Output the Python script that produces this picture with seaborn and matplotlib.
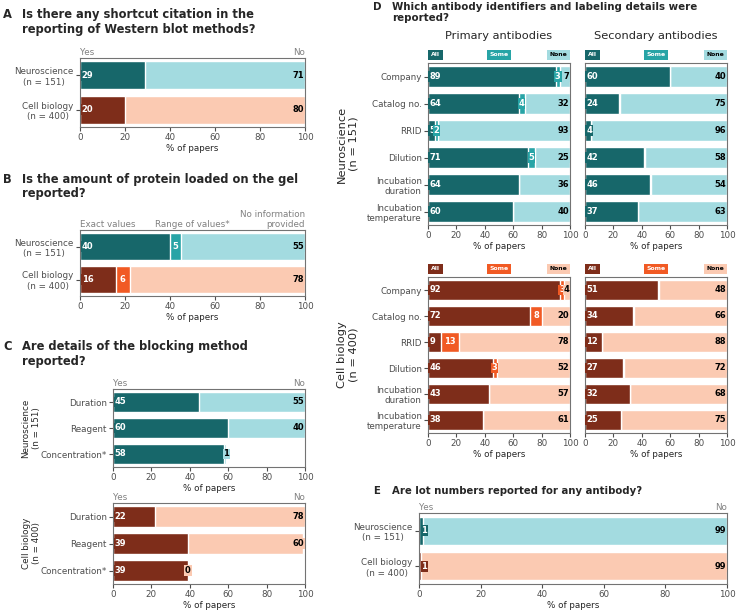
import numpy as np
import pandas as pd
import matplotlib
matplotlib.use("Agg")
import matplotlib.pyplot as plt
import seaborn as sns

# colours
TEAL_DARK = "#17676a"
TEAL_MID = "#27a4a6"
TEAL_LIGHT = "#a3dbe0"
BROWN = "#7e2d1a"
ORANGE = "#f15a24"
PEACH = "#fbcab2"
TEAL = [TEAL_DARK, TEAL_MID, TEAL_LIGHT]
RUST = [BROWN, ORANGE, PEACH]

groups = ["Neuroscience\n(n = 151)", "Cell biology\n(n = 400)"]

# A - shortcut citation
a_yes = [29, 20]
a_no = [71, 80]

# B - protein amount
b_exact = [40, 16]
b_range = [5, 6]
b_none = [55, 78]

# C - blocking method
c_items = ["Duration", "Reagent", "Concentration*"]
c_neuro_yes = [45, 60, 58]
c_neuro_no = [55, 40, 1]
c_cell_yes = [22, 39, 39]
c_cell_no = [78, 60, 0]

# D - antibody details
d_items = ["Company", "Catalog no.", "RRID", "Dilution",
           "Incubation\nduration", "Incubation\ntemperature"]
d_neuro_prim_all = [89, 64, 5, 71, 64, 60]
d_neuro_prim_some = [3, 4, 2, 5, 0, 0]
d_neuro_prim_none = [7, 32, 93, 25, 36, 40]
d_neuro_sec_all = [60, 24, 4, 42, 46, 37]
d_neuro_sec_some = [0.4, 0.7, 0, 0.3, 0.4, 0]
d_neuro_sec_none = [40, 75, 96, 58, 54, 63]
d_cell_prim_all = [92, 72, 9, 46, 43, 38]
d_cell_prim_some = [3, 8, 13, 3, 0, 0]
d_cell_prim_none = [4, 20, 78, 52, 57, 61]
d_cell_sec_all = [51, 34, 12, 27, 32, 25]
d_cell_sec_some = [0.8, 0.4, 0.3, 0.6, 0, 0]
d_cell_sec_none = [48, 66, 88, 72, 68, 75]

# E - lot numbers
e_yes = [1.4, 0.7]
e_no = [99, 99]

sns.set_style("ticks")
plt.rcParams["font.family"] = ["DejaVu Sans"]
plt.rcParams["axes.edgecolor"] = "0.45"
plt.rcParams["axes.linewidth"] = 0.8
plt.rcParams["xtick.color"] = "0.3"
plt.rcParams["ytick.color"] = "0.3"
plt.rcParams["xtick.major.size"] = 3
plt.rcParams["ytick.major.size"] = 3

TICK = 6.3
VAL = 6.0
W, H = 736, 611

fig = plt.figure(figsize=(7.36, 6.11), dpi=100)


def box(x0, y0, x1, y1):
    # pixel box -> figure fraction axes
    return fig.add_axes([x0 / W, 1 - y1 / H, (x1 - x0) / W, (y1 - y0) / H])


def vlabel(ax, x, y, txt, fg, bg, ha):
    ax.text(x, y, txt, ha=ha, va="center", color=fg, fontsize=VAL,
            fontweight="bold", bbox=dict(boxstyle="square,pad=0.1", fc=bg, ec="none"))


def stacked(ax, cats, segs, colors, normalise=True):
    vals = np.array(segs, dtype=float)
    cum = vals.cumsum(axis=0)
    if normalise:
        cum = cum / cum[-1] * 100
    for lev in range(len(segs) - 1, -1, -1):
        df = pd.DataFrame({"cat": cats, "x": cum[lev]})
        sns.barplot(data=df, x="x", y="cat", orient="h", color=colors[lev],
                    saturation=1, width=0.8, ax=ax)
    return cum


def labels(ax, segs, cum, colors):
    for i in range(len(segs[0])):
        vlabel(ax, 0.8, i, f"{segs[0][i]:.0f}", "white", colors[0], "left")
        if len(segs) == 3 and segs[1][i] >= 1:
            mid = (cum[0][i] + cum[1][i]) / 2
            vlabel(ax, mid, i, f"{segs[1][i]:.0f}", "white", colors[1], "center")
        vlabel(ax, 99.6, i, f"{segs[-1][i]:.0f}", "black", colors[-1], "right")


def finish(ax, xlabel=True, center_ticks=False):
    ax.set_xlim(0, 100)
    ax.set_xticks([0, 20, 40, 60, 80, 100])
    ax.set_xlabel("% of papers" if xlabel else "", fontsize=TICK, labelpad=1)
    ax.set_ylabel("")
    ax.tick_params(labelsize=TICK, pad=1.5)
    if center_ticks:
        for t in ax.get_yticklabels():
            t.set_multialignment("center")
    for s in ax.spines.values():
        s.set_visible(True)


def headers(ax, texts):
    tr = ax.get_xaxis_transform()
    ax.text(0, 1.01, texts[0], transform=tr, ha="left", va="bottom", color="0.5", fontsize=TICK)
    if len(texts) == 3:
        ax.text(50, 1.01, texts[1], transform=tr, ha="center", va="bottom", color="0.5", fontsize=TICK)
    ax.text(100, 1.01, texts[-1], transform=tr, ha="right", va="bottom", color="0.5",
            fontsize=TICK, multialignment="right")


def key_boxes(ax, colors):
    specs = [("All", 0, "left", 2, "white"), ("Some", 50, "center", 0, "white"),
             ("None", 100, "right", -2, "black")]
    for (txt, x, ha, dx, fg), c in zip(specs, colors):
        ax.annotate(txt, xy=(x, 1), xycoords=("data", "axes fraction"),
                    xytext=(dx, 4), textcoords="offset points", ha=ha, va="bottom",
                    fontsize=4.4, fontweight="bold", color=fg, annotation_clip=False,
                    bbox=dict(boxstyle="square,pad=0.45", fc=c, ec="none"))


def title(x, y, letter, text, size=8.3):
    fig.text((x) / W, 1 - y / H, letter, fontsize=size, fontweight="bold", va="top", ha="left")
    fig.text((x + 19) / W, 1 - y / H, text, fontsize=size, fontweight="bold", va="top", ha="left",
             linespacing=1.15)


# ---- Panel A
axA = box(80, 58, 305, 127)
segs = [a_yes, a_no]
cum = stacked(axA, groups, segs, [TEAL_DARK, TEAL_LIGHT])
# recolour cell biology row
axA.patches[1].set_facecolor(PEACH)
axA.patches[3].set_facecolor(BROWN)
for i, cols in enumerate([TEAL, RUST]):
    vlabel(axA, 0.8, i, f"{a_yes[i]}", "white", cols[0], "left")
    vlabel(axA, 99.6, i, f"{a_no[i]}", "black", cols[2], "right")
headers(axA, ["Yes", "No"])
finish(axA, center_ticks=True)
title(3, 8, "A", "Is there any shortcut citation in the\nreporting of Western blot methods?")

# ---- Panel B
axB = box(80, 230, 305, 296)
segs = [b_exact, b_range, b_none]
cum = stacked(axB, groups, segs, TEAL)
for lev, k in zip(range(3), [5, 3, 1]):
    axB.patches[k].set_facecolor(RUST[lev])
for i, cols in enumerate([TEAL, RUST]):
    vlabel(axB, 0.8, i, f"{b_exact[i]}", "white", cols[0], "left")
    vlabel(axB, (cum[0][i] + cum[1][i]) / 2, i, f"{b_range[i]}", "white", cols[1], "center")
    vlabel(axB, 99.6, i, f"{b_none[i]}", "black", cols[2], "right")
headers(axB, ["Exact values", "Range of values*", "No information\nprovided"])
finish(axB, center_ticks=True)
title(3, 173, "B", "Is the amount of protein loaded on the gel\nreported?")

# ---- Panel C
for (y0, y1), yes, no, cols, grp in [((389, 467), c_neuro_yes, c_neuro_no, TEAL, groups[0]),
                                     ((503, 584), c_cell_yes, c_cell_no, RUST, groups[1])]:
    ax = box(113, y0, 305, y1)
    cum = stacked(ax, c_items, [yes, no], [cols[0], cols[2]], normalise=False)
    for i in range(3):
        vlabel(ax, 0.8, i, f"{yes[i]}", "white", cols[0], "left")
        end = cum[1][i]
        if end < 99:
            vlabel(ax, end, i, f"{no[i]}", "black", cols[2], "center")
        else:
            vlabel(ax, 99.6, i, f"{no[i]}", "black", cols[2], "right")
    headers(ax, ["Yes", "No"])
    finish(ax)
    ax.set_ylabel(grp, fontsize=TICK)
    ax.yaxis.set_label_coords(-0.375, 0.5)
title(3, 340, "C", "Are details of the blocking method\nreported?")

# ---- Panel D
d_rows = [
    ((63, 225), TEAL, groups[0],
     [d_neuro_prim_all, d_neuro_prim_some, d_neuro_prim_none],
     [d_neuro_sec_all, d_neuro_sec_some, d_neuro_sec_none]),
    ((277, 433), RUST, groups[1],
     [d_cell_prim_all, d_cell_prim_some, d_cell_prim_none],
     [d_cell_sec_all, d_cell_sec_some, d_cell_sec_none]),
]
for r, ((y0, y1), cols, grp, prim, sec) in enumerate(d_rows):
    for j, (x0, segs) in enumerate([(428, prim), (585, sec)]):
        ax = box(x0, y0, x0 + 142, y1)
        cum = stacked(ax, d_items, segs, cols)
        labels(ax, segs, cum, cols)
        key_boxes(ax, cols)
        finish(ax)
        if j == 0:
            ax.set_ylabel(grp, fontsize=8.2, labelpad=6)
        else:
            ax.set_yticks([])
        if r == 0:
            ax.set_title(["Primary antibodies", "Secondary antibodies"][j],
                         fontsize=8.2, pad=17)
title(373, 2, "D", "Which antibody identifiers and labeling details were\nreported?", size=7.4)

# ---- Panel E
axE = box(419, 513, 727, 584)
segs = [e_yes, e_no]
cum = stacked(axE, groups, segs, [TEAL_DARK, TEAL_LIGHT])
axE.patches[1].set_facecolor(PEACH)
axE.patches[3].set_facecolor(BROWN)
for i, cols in enumerate([TEAL, RUST]):
    vlabel(axE, 0.8, i, f"{e_yes[i]:.0f}", "white", cols[0], "left")
    vlabel(axE, 99.6, i, f"{e_no[i]}", "black", cols[2], "right")
headers(axE, ["Yes", "No"])
finish(axE, center_ticks=True)
title(373, 486, "E", "Are lot numbers reported for any antibody?", size=7.3)

fig.savefig("out.png", dpi=100)
